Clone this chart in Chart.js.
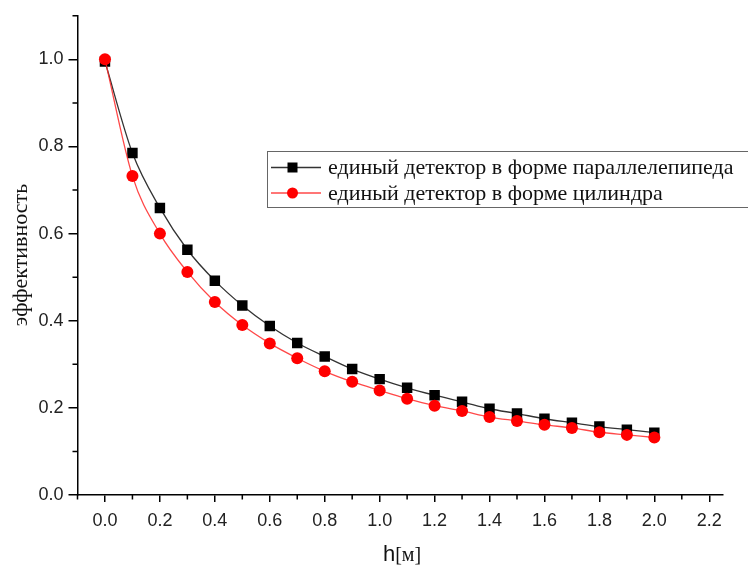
<!DOCTYPE html>
<html>
<head>
<meta charset="utf-8">
<script src="https://cdn.jsdelivr.net/npm/chart.js@4.4.1/dist/chart.umd.min.js"></script>
<style>
  html, body { margin: 0; padding: 0; background: #fff; }
  #wrap { width: 748px; height: 568px; }
</style>
</head>
<body>
<div id="wrap"><canvas id="myChart"></canvas></div>
<script>
const hValues = [0.0, 0.1, 0.2, 0.3, 0.4, 0.5, 0.6, 0.7, 0.8, 0.9, 1.0, 1.1, 1.2, 1.3, 1.4, 1.5, 1.6, 1.7, 1.8, 1.9, 2.0]
const parallelepiped = [0.995, 0.785, 0.659, 0.563, 0.492, 0.435, 0.388, 0.349, 0.318, 0.289, 0.266, 0.246, 0.229, 0.214, 0.198, 0.187, 0.175, 0.166, 0.157, 0.150, 0.143]
const cylinder = [1.0, 0.732, 0.600, 0.512, 0.443, 0.390, 0.348, 0.314, 0.284, 0.260, 0.240, 0.221, 0.205, 0.193, 0.179, 0.170, 0.161, 0.154, 0.144, 0.138, 0.132]

const xMajorTicks = [0.0, 0.2, 0.4, 0.6, 0.8, 1.0, 1.2, 1.4, 1.6, 1.8, 2.0, 2.2]
const xMinorTicks = [-0.1, 0.1, 0.3, 0.5, 0.7, 0.9, 1.1, 1.3, 1.5, 1.7, 1.9, 2.1]
const yMajorTicks = [0.0, 0.2, 0.4, 0.6, 0.8, 1.0]
const yMinorTicks = [0.1, 0.3, 0.5, 0.7, 0.9, 1.1]

const seriesLabels = ['единый детектор в форме параллелепипеда', 'единый детектор в форме цилиндра']
const xTitleMain = 'h'
const xTitleUnit = '[м]'
const yTitle = 'эффективность'

const SANS = '"Liberation Sans", Arial, sans-serif'
const SERIF = '"Liberation Serif", "Times New Roman", serif'

function toPoints(values) {
    let pts = []
    for (let i = 0; i < hValues.length; i++) {
        pts.push({ x: hValues[i], y: values[i] })
    }
    return pts
}

// minor ticks, axis titles and the boxed legend
const decorations = {
    id: 'decorations',
    afterDraw(chart) {
        const ctx = chart.ctx
        const xs = chart.scales.x
        const ys = chart.scales.y
        const area = chart.chartArea
        ctx.save()
        ctx.strokeStyle = '#000'
        ctx.lineWidth = 1.5
        ctx.beginPath()
        xMinorTicks.forEach(v => {
            const px = xs.getPixelForValue(v)
            ctx.moveTo(px, area.bottom)
            ctx.lineTo(px, area.bottom + 4.5)
        })
        yMinorTicks.forEach(v => {
            const py = ys.getPixelForValue(v)
            ctx.moveTo(area.left, py)
            ctx.lineTo(area.left - 5, py)
        })
        ctx.stroke()

        // x title: sans "h" + serif "[м]"
        ctx.fillStyle = '#111'
        ctx.textBaseline = 'alphabetic'
        ctx.textAlign = 'left'
        ctx.font = '22px ' + SANS
        const w1 = ctx.measureText(xTitleMain).width
        ctx.font = '20px ' + SERIF
        const w2 = ctx.measureText(xTitleUnit).width
        let tx = 402 - (w1 + w2) / 2
        ctx.font = '22px ' + SANS
        ctx.fillText(xTitleMain, tx, 561)
        ctx.font = '20px ' + SERIF
        ctx.fillText(xTitleUnit, tx + w1, 561)

        // y title
        ctx.save()
        ctx.translate(21, 255)
        ctx.rotate(-Math.PI / 2)
        ctx.textAlign = 'center'
        ctx.textBaseline = 'middle'
        ctx.font = '22px ' + SERIF
        ctx.fillText(yTitle, 0, 0)
        ctx.restore()

        // legend
        ctx.strokeStyle = '#666'
        ctx.lineWidth = 1
        ctx.strokeRect(267.5, 151.5, 520, 56)
        const rows = [167.5, 193]
        chart.data.datasets.forEach((ds, i) => {
            const y = rows[i]
            ctx.strokeStyle = ds.borderColor
            ctx.lineWidth = ds.borderWidth
            ctx.beginPath()
            ctx.moveTo(271, y)
            ctx.lineTo(321, y)
            ctx.stroke()
            ctx.fillStyle = ds.pointBackgroundColor
            if (ds.pointStyle === 'rect') {
                ctx.fillRect(292.5 - 5, y - 5, 10, 10)
            } else {
                ctx.beginPath()
                ctx.arc(292.5, y, 5.5, 0, Math.PI * 2)
                ctx.fill()
            }
            ctx.fillStyle = '#111'
            ctx.font = '22px ' + SERIF
            ctx.textAlign = 'left'
            ctx.textBaseline = 'middle'
            ctx.fillText(ds.label, 328, y + 1)
        })
        ctx.restore()
    }
}

new Chart(document.getElementById('myChart'), {
    type: 'line',
    data: {
        datasets: [{
            label: seriesLabels[0],
            data: toPoints(parallelepiped),
            borderColor: '#333333',
            borderWidth: 1.3,
            pointStyle: 'rect',
            pointRadius: 7.4,
            pointBackgroundColor: '#000000',
            pointBorderColor: '#000000',
            pointBorderWidth: 0,
            cubicInterpolationMode: 'monotone',
            order: 1
        }, {
            label: seriesLabels[1],
            data: toPoints(cylinder),
            borderColor: 'rgba(255,40,40,0.85)',
            borderWidth: 1.3,
            pointStyle: 'circle',
            pointRadius: 6,
            pointBackgroundColor: '#ff0000',
            pointBorderColor: '#ff0000',
            pointBorderWidth: 0,
            cubicInterpolationMode: 'monotone',
            order: 0
        }]
    },
    options: {
        responsive: true,
        maintainAspectRatio: false,
        animation: false,
        devicePixelRatio: 1,
        layout: {
            padding: { left: 0, right: 25, top: 15, bottom: 0 }
        },
        plugins: {
            legend: { display: false },
            tooltip: { enabled: false }
        },
        scales: {
            x: {
                type: 'linear',
                min: -0.1,
                max: 2.25,
                afterBuildTicks: s => { s.ticks = xMajorTicks.map(v => ({ value: v })) },
                afterFit: s => { s.height = 73 },
                grid: {
                    drawOnChartArea: false,
                    tickLength: 7,
                    color: '#000',
                    lineWidth: 1.5
                },
                border: { color: '#000', width: 1.5 },
                ticks: {
                    autoSkip: false,
                    maxRotation: 0,
                    padding: 8,
                    color: '#222',
                    font: { family: SANS, size: 18 },
                    callback: v => v.toFixed(1)
                }
            },
            y: {
                type: 'linear',
                min: 0,
                max: 1.1,
                afterBuildTicks: s => { s.ticks = yMajorTicks.map(v => ({ value: v })) },
                afterFit: s => { s.width = 77.5 },
                grid: {
                    drawOnChartArea: false,
                    tickLength: 9,
                    color: '#000',
                    lineWidth: 1.5
                },
                border: { color: '#000', width: 1.5 },
                ticks: {
                    padding: 5,
                    color: '#222',
                    font: { family: SANS, size: 18 },
                    callback: v => v.toFixed(1)
                }
            }
        }
    },
    plugins: [decorations]
})
</script>
</body>
</html>
